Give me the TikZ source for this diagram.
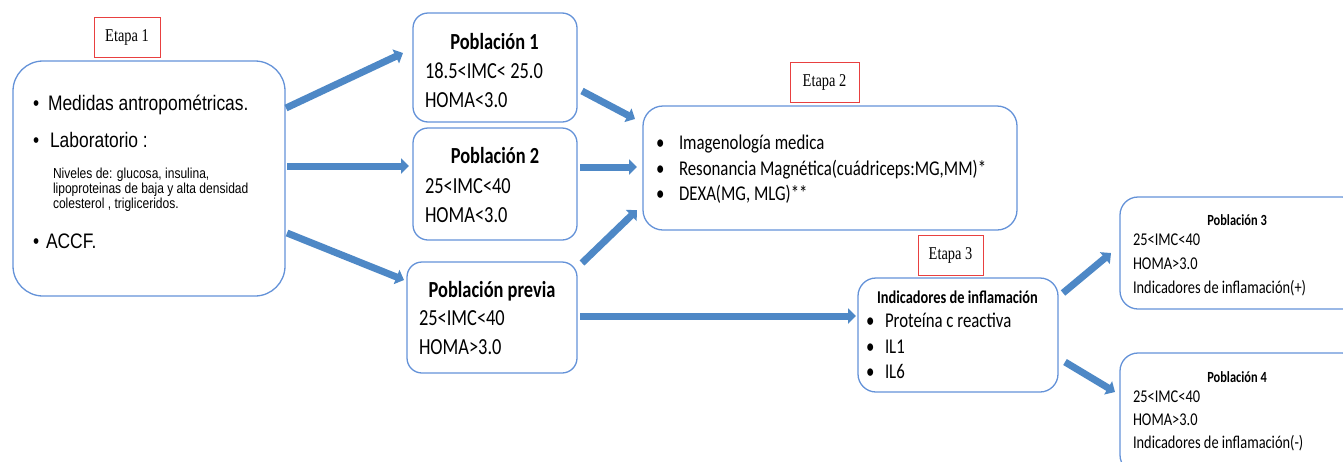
\documentclass[tikz,border=0pt]{standalone}
\usepackage{fontspec}
\setmainfont{Liberation Sans}
\newfontfamily\arialf{Liberation Sans}[FakeStretch=0.83]
\newfontfamily\calib{Carlito}[FakeStretch=0.8]
\newfontfamily\timesf{Liberation Serif}[FakeStretch=0.8]
\usetikzlibrary{arrows.meta}
\definecolor{boxblue}{RGB}{100,146,216}
\definecolor{arrowblue}{RGB}{78,136,198}
\definecolor{etapared}{RGB}{232,64,64}
\tikzset{
  box/.style={draw=boxblue, line width=1.3pt, inner sep=0pt, outer sep=0pt, anchor=north west},
  redbox/.style={draw=etapared, line width=1pt, inner sep=0pt, outer sep=0pt,
    font=\timesf\fontsize{18}{20}\selectfont, minimum height=40pt},
  blockarrow/.style={draw=arrowblue, line width=7pt, -{Triangle[length=8pt,width=15pt]}},
  txt/.style={inner sep=0pt, outer sep=0pt, anchor=base west},
  ttl/.style={inner sep=0pt, outer sep=0pt, anchor=base},
  fa/.style={font=\arialf\fontsize{21}{25}\selectfont},
  fas/.style={font=\arialf\fontsize{14.5}{15}\selectfont},
  fc/.style={font=\calib\fontsize{21}{25}\selectfont},
  fcb/.style={font=\calib\bfseries\fontsize{23}{27}\selectfont},
  fcp/.style={font=\calib\fontsize{23}{27}\selectfont},
  fci/.style={font=\calib\bfseries\fontsize{18}{22}\selectfont},
  fcs/.style={font=\calib\fontsize{18}{22}\selectfont},
  fct/.style={font=\calib\bfseries\fontsize{15.5}{18}\selectfont},
}
\begin{document}
\begin{tikzpicture}[x=1pt,y=-1pt]
\useasboundingbox (0,0) rectangle (1343,461);

% boxes
\node[box, rounded corners=30pt, minimum width=272pt, minimum height=235pt] (L) at (13,61) {};
\node[box, rounded corners=15pt, minimum width=164pt, minimum height=109pt] (P1) at (413,13) {};
\node[box, rounded corners=15pt, minimum width=164pt, minimum height=112pt] (P2) at (413,128) {};
\node[box, rounded corners=15pt, minimum width=170pt, minimum height=111pt] (PP) at (407,262) {};
\node[box, rounded corners=20pt, minimum width=374pt, minimum height=124pt] (S2) at (643,106) {};
\node[box, rounded corners=18pt, minimum width=200pt, minimum height=114pt] (IND) at (858,278) {};
\node[box, rounded corners=18pt, minimum width=240pt, minimum height=112pt] (P3) at (1120,197) {};
\node[box, rounded corners=18pt, minimum width=240pt, minimum height=120pt] (P4) at (1120,353) {};

% etapa labels
\node[redbox, minimum width=66pt] (E1) at (127,37) {Etapa 1};
\node[redbox, minimum width=69pt] (E2) at (824.5,82) {Etapa 2};
\node[redbox, minimum width=65pt] (E3) at (950.5,255) {Etapa 3};

% left box text
\node[txt, fa] (b1) at (33,110) {\textbullet};
\node[txt, fa] (t1) at (48,110) {Medidas antropométricas.};
\node[txt, fa] (b2) at (33,147) {\textbullet};
\node[txt, fa] (t2) at (50,147) {Laboratorio :};
\node[txt, fas] (t3) at (53,178) {Niveles de: glucosa, insulina,};
\node[txt, fas] (t4) at (53,193) {lipoproteinas de baja y alta densidad};
\node[txt, fas] (t5) at (53,208) {colesterol , trigliceridos.};
\node[txt, fa] (b3) at (33,248) {\textbullet};
\node[txt, fa] (t6) at (46,248) {ACCF.};

% poblacion 1
\node[ttl, fcb] (p1t) at (494.5,49) {Población 1};
\node[txt, fcp] (p1a) at (425,78) {18.5<IMC< 25.0};
\node[txt, fcp] (p1b) at (425,107) {HOMA<3.0};
% poblacion 2
\node[ttl, fcb] (p2t) at (495,163) {Población 2};
\node[txt, fcp] (p2a) at (425,193) {25<IMC<40};
\node[txt, fcp] (p2b) at (425,222) {HOMA<3.0};
% poblacion previa
\node[ttl, fcb] (ppt) at (492,297) {Población previa};
\node[txt, fcp] (ppa) at (419,325) {25<IMC<40};
\node[txt, fcp] (ppb) at (419,354) {HOMA>3.0};

% etapa 2 box
\node[txt, fc] (sb1) at (656,149) {\textbullet};
\node[txt, fc] (s1) at (679,149) {Imagenología medica};
\node[txt, fc] (sb2) at (656,175) {\textbullet};
\node[txt, fc] (s2) at (679,175) {Resonancia Magnética(cuádriceps:MG,MM)*};
\node[txt, fc] (sb3) at (656,200) {\textbullet};
\node[txt, fc] (s3) at (679,200) {DEXA(MG, MLG)**};

% indicadores
\node[txt, fci] (it) at (877,303) {Indicadores de inflamación};
\node[txt, fc] (ib1) at (866,327) {\textbullet};
\node[txt, fc] (i1) at (885,327) {Proteína c reactiva};
\node[txt, fc] (ib2) at (866,353) {\textbullet};
\node[txt, fc] (i2) at (885,353) {IL1};
\node[txt, fc] (ib3) at (866,378) {\textbullet};
\node[txt, fc] (i3) at (885,378) {IL6};

% poblacion 3
\node[ttl, fct] (p3t) at (1237,225) {Población 3};
\node[txt, fcs] (p3a) at (1133,245) {25<IMC<40};
\node[txt, fcs] (p3b) at (1133,269) {HOMA>3.0};
\node[txt, fcs] (p3c) at (1133,293) {Indicadores de inflamación(+)};
% poblacion 4
\node[ttl, fct] (p4t) at (1237,382) {Población 4};
\node[txt, fcs] (p4a) at (1133,402) {25<IMC<40};
\node[txt, fcs] (p4b) at (1133,425) {HOMA>3.0};
\node[txt, fcs] (p4c) at (1133,448) {Indicadores de inflamación(-)};

% arrows
\draw[blockarrow] ([xshift=1pt,yshift=-47pt]L.north east) -- ([xshift=-10pt,yshift=-40pt]P1.north west);
\draw[blockarrow] ([xshift=2pt,yshift=-105pt]L.north east) -- ([xshift=-4pt,yshift=-38pt]P2.north west);
\draw[blockarrow] ([xshift=2pt,yshift=-172pt]L.north east) -- ([xshift=-3pt,yshift=-18pt]PP.north west);
\draw[blockarrow] ([xshift=5pt,yshift=-78pt]P1.north east) -- ([xshift=-8pt,yshift=-13pt]S2.north west);
\draw[blockarrow] ([xshift=3pt,yshift=-39pt]P2.north east) -- ([xshift=-6pt,yshift=-61pt]S2.north west);
\draw[blockarrow] ([xshift=5pt,yshift=-1pt]PP.north east) -- ([xshift=-6pt,yshift=-104pt]S2.north west);
\draw[blockarrow] ([xshift=3pt,yshift=-54pt]PP.north east) -- ([xshift=-2pt,yshift=-38pt]IND.north west);
\draw[blockarrow] ([xshift=5pt,yshift=-15pt]IND.north east) -- ([xshift=-9pt,yshift=-56pt]P3.north west);
\draw[blockarrow] ([xshift=7pt,yshift=-84pt]IND.north east) -- ([xshift=-5pt,yshift=-39pt]P4.north west);
\end{tikzpicture}
\end{document}
